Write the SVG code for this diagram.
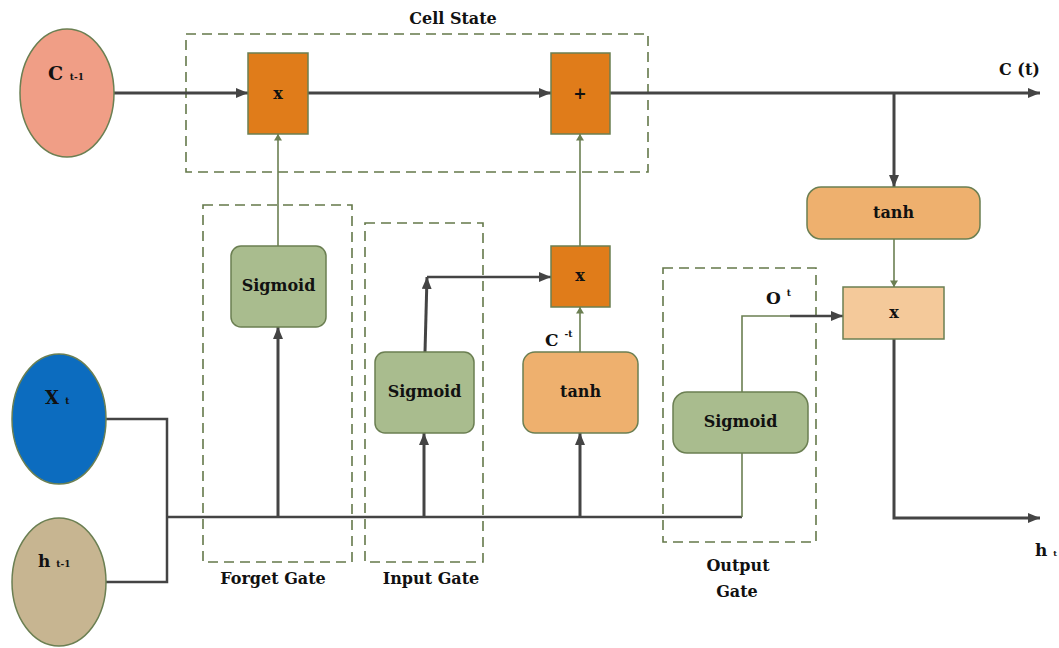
<svg xmlns="http://www.w3.org/2000/svg" width="1059" height="648" viewBox="0 0 1059 648">
<defs>
<marker id="ad" viewBox="0 0 12 10" refX="12" refY="5" markerWidth="12" markerHeight="10" markerUnits="userSpaceOnUse" orient="auto"><path d="M0,0 L12,5 L0,10 Z" fill="#444"/></marker>
<marker id="ag" viewBox="0 0 8 10" refX="8" refY="5" markerWidth="10" markerHeight="8" markerUnits="userSpaceOnUse" orient="auto"><path d="M0,0 L8,5 L0,10 Z" fill="#6b7f52"/></marker>
</defs>
<style>
text{font-family:"DejaVu Serif","Liberation Serif",serif;font-weight:bold;fill:#111}
.lbl{font-size:16px}
.dash{fill:none;stroke:#64784a;stroke-width:1.6;stroke-dasharray:10,6}
.dk{fill:none;stroke:#444;stroke-width:3}
.dkt{fill:none;stroke:#444;stroke-width:2.5}
.gr{fill:none;stroke:#6b7f52;stroke-width:1.6}
.op{fill:#e07c1a;stroke:#6b7f52;stroke-width:1.5}
.sig{fill:#a9bc8e;stroke:#6b7f52;stroke-width:1.5}
.th{fill:#eeb06e;stroke:#6b7f52;stroke-width:1.5}
</style>
<rect width="1059" height="648" fill="#fff"/>

<g id="regions">
<rect class="dash" x="186" y="34" width="462" height="138"/>
<text x="453" y="24" text-anchor="middle" class="lbl">Cell State</text>
<rect class="dash" x="203" y="205" width="149" height="357"/>
<text x="273" y="584" text-anchor="middle" class="lbl">Forget Gate</text>
<rect class="dash" x="365" y="223" width="118" height="339"/>
<text x="431" y="584" text-anchor="middle" class="lbl">Input Gate</text>
<rect class="dash" x="663" y="268" width="153" height="274"/>
<text x="738" y="571" text-anchor="middle" class="lbl">Output</text>
<text x="737" y="597" text-anchor="middle" class="lbl">Gate</text>
</g>

<g id="connectors">
<line class="dk" x1="114" y1="93" x2="248" y2="93" marker-end="url(#ad)"/>
<line class="dk" x1="308" y1="93" x2="551" y2="93" marker-end="url(#ad)"/>
<line class="dk" x1="610" y1="93" x2="1040" y2="93" marker-end="url(#ad)"/>
<line class="dk" x1="894" y1="93" x2="894" y2="187" marker-end="url(#ad)"/>
<line class="gr" x1="278" y1="246" x2="278" y2="134" marker-end="url(#ag)"/>
<line class="gr" x1="580" y1="246" x2="580" y2="134" marker-end="url(#ag)"/>
<line class="gr" x1="580" y1="352" x2="580" y2="307" marker-end="url(#ag)"/>
<line class="gr" x1="894" y1="239" x2="894" y2="287" marker-end="url(#ag)"/>
<polyline class="dkt" points="106,419 167,419 167,582 106,582"/>
<line class="dkt" x1="167" y1="517" x2="742" y2="517"/>
<line class="dk" x1="278" y1="517" x2="278" y2="327" marker-end="url(#ad)"/>
<line class="dk" x1="424" y1="517" x2="424" y2="433" marker-end="url(#ad)"/>
<line class="dk" x1="580" y1="517" x2="580" y2="433" marker-end="url(#ad)"/>
<line class="dk" x1="425" y1="352" x2="427" y2="277" marker-end="url(#ad)"/>
<polyline class="dkt" points="427,277 551,277" marker-end="url(#ad)"/>
<line class="gr" x1="742" y1="517" x2="742" y2="453"/>
<polyline class="gr" points="742,392 742,316 790,316"/>
<line class="dkt" x1="790" y1="316" x2="843" y2="316" marker-end="url(#ad)"/>
<polyline class="dk" points="894,339 894,518 1040,518" marker-end="url(#ad)"/>
</g>

<g id="c_prev">
<ellipse cx="67" cy="93" rx="47" ry="64" fill="#f09e86" stroke="#6b7f52" stroke-width="1.5"/>
<text x="48" y="80" font-size="19">C <tspan font-size="9">t-1</tspan></text>
</g>
<g id="x_t">
<ellipse cx="59" cy="419" rx="47" ry="65" fill="#0c6cbf" stroke="#6b7f52" stroke-width="1.5"/>
<text x="45" y="404" font-size="18">X <tspan font-size="9">t</tspan></text>
</g>
<g id="h_prev">
<ellipse cx="59" cy="582" rx="47" ry="64" fill="#c7b591" stroke="#6b7f52" stroke-width="1.5"/>
<text x="38" y="567" font-size="17">h <tspan font-size="9">t-1</tspan></text>
</g>

<g id="mul_forget">
<rect class="op" x="248" y="53" width="60" height="81"/>
<text x="278" y="99" text-anchor="middle" font-size="16">x</text>
</g>
<g id="add_cell">
<rect class="op" x="551" y="53" width="59" height="81"/>
<text x="580" y="99" text-anchor="middle" font-size="16" font-weight="normal">+</text>
</g>
<g id="mul_input">
<rect class="op" x="551" y="246" width="59" height="61"/>
<text x="580" y="281" text-anchor="middle" font-size="16">x</text>
</g>

<g id="sig_forget">
<rect class="sig" x="231" y="246" width="95" height="81" rx="10"/>
<text x="278.5" y="291" text-anchor="middle" class="lbl">Sigmoid</text>
</g>
<g id="sig_input">
<rect class="sig" x="375" y="352" width="99" height="81" rx="10"/>
<text x="424.5" y="397" text-anchor="middle" class="lbl">Sigmoid</text>
</g>
<g id="tanh_input">
<rect class="th" x="523" y="352" width="115" height="81" rx="12"/>
<text x="580.5" y="397" text-anchor="middle" class="lbl">tanh</text>
<text x="545" y="346" font-size="17">C <tspan font-size="9" dy="-9">-t</tspan></text>
</g>
<g id="sig_output">
<rect class="sig" x="673" y="392" width="135" height="61" rx="14"/>
<text x="740.5" y="427" text-anchor="middle" class="lbl">Sigmoid</text>
<text x="766" y="304" font-size="17">O <tspan font-size="9" dy="-8">t</tspan></text>
</g>
<g id="tanh_out">
<rect class="th" x="807" y="187" width="173" height="52" rx="14"/>
<text x="893.5" y="218" text-anchor="middle" class="lbl">tanh</text>
</g>
<g id="mul_out">
<rect x="843" y="287" width="101" height="52" fill="#f4c99a" stroke="#6b7f52" stroke-width="1.5"/>
<text x="894" y="318" text-anchor="middle" font-size="16">x</text>
</g>
<g id="outputs">
<text x="999" y="75" font-size="16">C (t)</text>
<text x="1035" y="556" font-size="17">h <tspan font-size="8">t</tspan></text>
</g>
</svg>
